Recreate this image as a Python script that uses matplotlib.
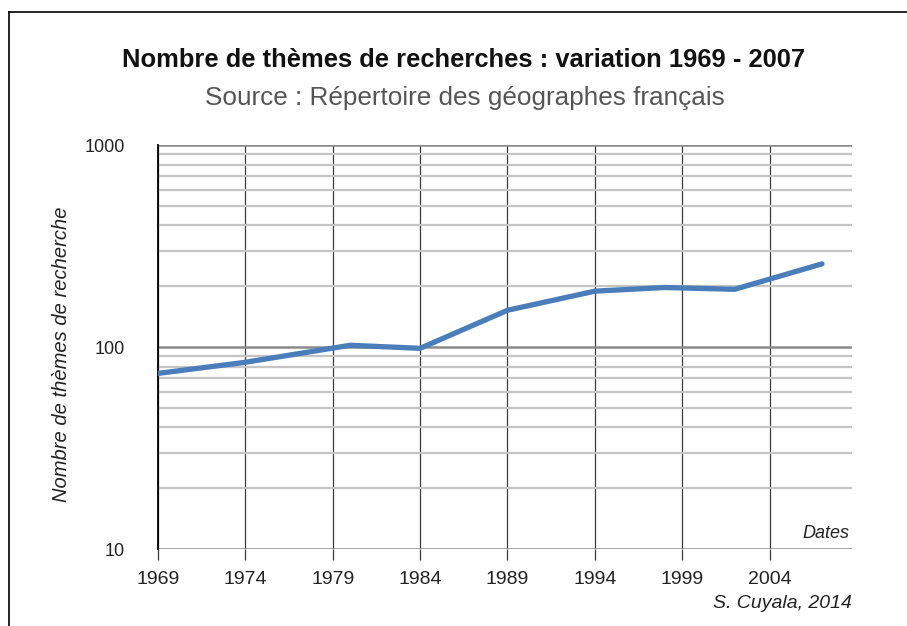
import matplotlib
matplotlib.use("Agg")
import matplotlib.pyplot as plt
from matplotlib.lines import Line2D
from matplotlib.ticker import FixedLocator, NullFormatter, LogLocator

years = [1969, 1974, 1980, 1984, 1989, 1994, 1998, 2002, 2007]
values = [74, 84, 102, 98.5, 152, 189, 197, 193, 258]
xticks = [1969, 1974, 1979, 1984, 1989, 1994, 1999, 2004]
yticks = [10, 100, 1000]

W, H = 907, 626
fig = plt.figure(figsize=(W / 100, H / 100), dpi=100)
fig.patch.set_facecolor("white")

# outer frame (left and top edges)
fig.add_artist(Line2D([9 / W, 9 / W], [0, 1 - 12 / H], color="black", lw=1.2))
fig.add_artist(Line2D([9 / W, 1], [1 - 12 / H, 1 - 12 / H], color="black", lw=1.2))

ax = fig.add_axes([158 / W, 1 - 549 / H, (851.7 - 158) / W, (549 - 145) / H])
ax.set_yscale("log")
ax.set_ylim(10, 1000)
ax.set_xlim(1969, 2008.7)

ax.plot(years, values, color="#4a7ebb", lw=3.8, solid_capstyle="round",
        solid_joinstyle="round", zorder=5)

ax.yaxis.set_major_locator(FixedLocator(yticks))
ax.yaxis.set_minor_locator(LogLocator(base=10, subs=range(2, 10)))
ax.yaxis.set_minor_formatter(NullFormatter())
ax.set_yticks(yticks)
ax.set_yticklabels([str(v) for v in yticks], fontfamily="Liberation Sans",
                   fontsize=13, color="#222222")
ax.set_xticks(xticks)
ax.set_xticklabels([str(v) for v in xticks], fontfamily="Liberation Sans",
                   fontsize=14, color="#222222")

ax.grid(True, which="minor", axis="y", color="#c4c4c4", lw=1.6, zorder=1)
ax.grid(True, which="major", axis="y", color="#8a8a8a", lw=1.8, zorder=2)
ax.grid(True, which="major", axis="x", color="#3a3a3a", lw=0.9, zorder=3)

ax.tick_params(axis="y", which="both", length=0, pad=24)
ax.tick_params(axis="x", which="major", length=8, width=0.9, color="#3a3a3a",
               direction="out", pad=8)

for s in ["top", "right", "bottom"]:
    ax.spines[s].set_visible(False)
ax.spines["left"].set_color("black")
ax.spines["left"].set_linewidth(1.3)
ax.spines["left"].set_bounds(10, 1000)

fig.text(62 / W, 1 - 354 / H, "Nombre de thèmes de recherche", rotation=90,
         ha="center", va="center", fontfamily="Liberation Sans",
         style="italic", fontsize=14.5, color="#222222")

fig.text(849 / W, 1 - 533 / H, "Dates", ha="right", va="center",
         fontfamily="Liberation Sans", style="italic",
         fontsize=13, color="#222222")

fig.text(852 / W, 1 - 604 / H, "S. Cuyala, 2014", ha="right", va="center",
         fontfamily="Liberation Sans", style="italic",
         fontsize=14, color="#222222")

fig.text(464 / W, 1 - 60 / H, "Nombre de thèmes de recherches : variation 1969 - 2007",
         ha="center", va="center", fontfamily="Liberation Sans", fontweight="bold",
         fontsize=18.4, color="#111111")
fig.text(465 / W, 1 - 98 / H, "Source : Répertoire des géographes français",
         ha="center", va="center", fontfamily="Liberation Sans",
         fontsize=18.8, color="#555555")

fig.savefig("out.png", dpi=100)
